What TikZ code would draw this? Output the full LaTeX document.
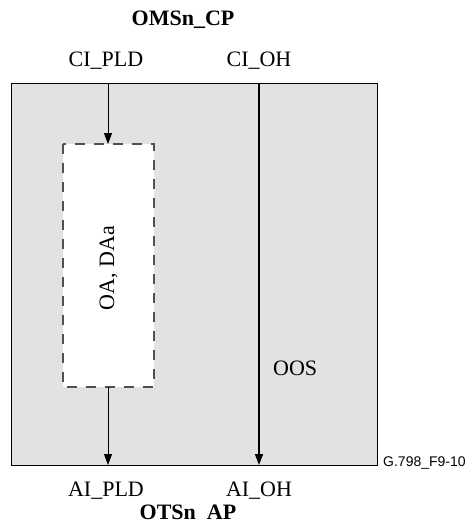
\documentclass[tikz,border=0pt]{standalone}
\usepackage{fontspec}
\setmainfont{Liberation Serif}
\setsansfont{Liberation Sans}
\usetikzlibrary{arrows.meta}
\definecolor{boxgray}{HTML}{E1E2E4}
\definecolor{dashgray}{HTML}{505050}
\tikzset{
  lbl/.style={font=\fontsize{22}{24}\selectfont, inner sep=0pt},
  title/.style={font=\fontsize{22}{24}\selectfont\bfseries, inner sep=0pt},
  flow/.style={-{Triangle[width=8pt,length=11pt]}, line width=0.9pt},
  flowthick/.style={-{Triangle[width=8pt,length=11pt]}, line width=1.6pt},
}
\begin{document}
\begin{tikzpicture}[x=1pt,y=-1pt]
\useasboundingbox (0,0) rectangle (476,523);
% outer block
\draw[fill=boxgray, line width=0.9pt] (11,83) rectangle (377,465);
% inner dashed block
\fill[white] (63,144) rectangle (154,387);
\draw[dashgray, line width=1.1pt, dash pattern=on 10pt off 9pt] (63,144) rectangle (154,387);
\node[lbl, rotate=90] (oa) at (108.5,268) {OA, DAa};
\coordinate (inTop) at (108,144);
\coordinate (inBot) at (108,387);
% labels
\node[title] (cp) at (183,20) {OMSn\_CP};
\node[lbl] (cipld) at (106,61) {CI\_PLD};
\node[lbl] (cioh) at (259,61) {CI\_OH};
\node[lbl] (aipld) at (106,491) {AI\_PLD};
\node[lbl] (aioh) at (259,491) {AI\_OH};
\node[title, anchor=base] (ap) at (188,519) {OTSn\hspace{0.5em}AP};
\node[lbl, anchor=west] (oos) at (273,368) {OOS};
\node[font=\sffamily\fontsize{14}{16}\selectfont, anchor=west, inner sep=0pt] (fig) at (383,463) {G.798\_F9-10};
% connectors
\coordinate (plTop) at (108,83);
\coordinate (plBot) at (108,465);
\coordinate (ohTop) at (259,83);
\coordinate (ohBot) at (259,465);
\draw[flow] (plTop) -- (inTop);
\draw[flow] (inBot) -- (plBot);
\draw[flowthick] (ohTop) -- (ohBot);
\end{tikzpicture}
\end{document}
